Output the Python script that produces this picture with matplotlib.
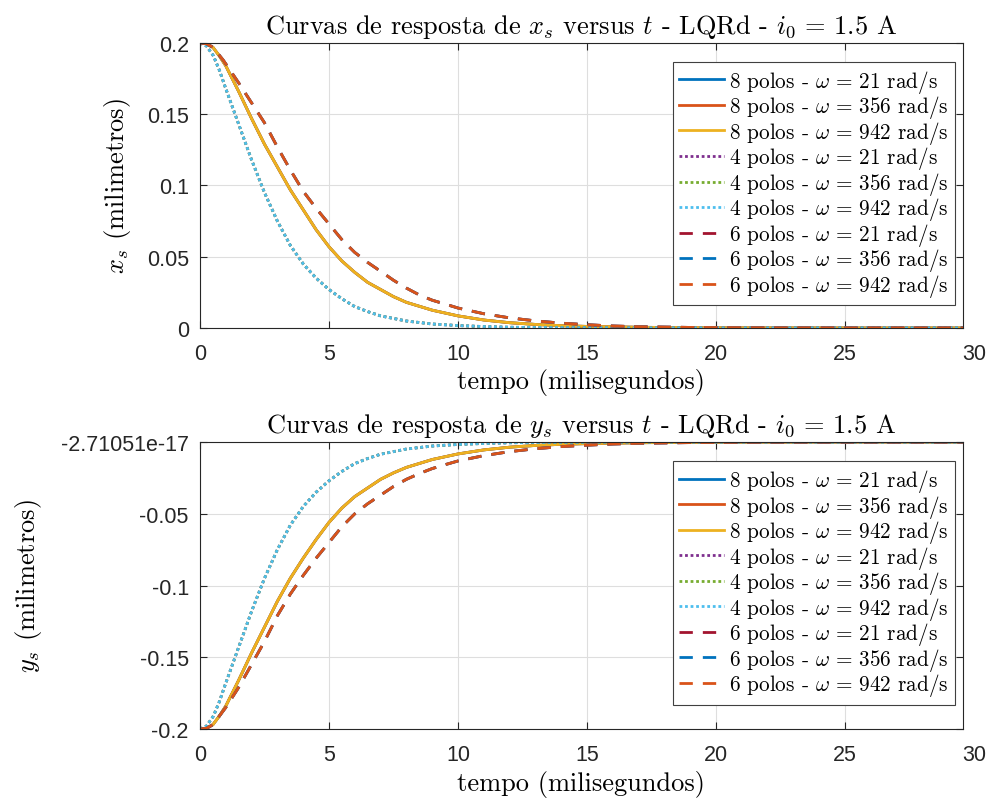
import numpy as np
import matplotlib
matplotlib.use("Agg")
import matplotlib.pyplot as plt

plt.rcParams['mathtext.fontset'] = 'cm'
plt.rcParams['font.family'] = ['cmr10', 'DejaVu Sans']
plt.rcParams['axes.unicode_minus'] = False

# tempo final (ms)
t_end = 29.57

# ---- resposta x_s (mm) ----
t_8x = [0, 0.25, 0.5, 0.75, 1.0, 1.5, 2.0, 2.5, 3.0, 3.5, 4.0, 4.5, 5.0, 5.5, 6.0, 6.5, 7.0,
        7.5, 8.0, 9.0, 10, 11, 12, 13, 14, 15, 17, 20, 25, t_end]
x_8 = [0.2, 0.1995, 0.197, 0.191, 0.184, 0.166, 0.147, 0.129, 0.113, 0.097, 0.083, 0.069,
       0.057, 0.047, 0.039, 0.032, 0.027, 0.022, 0.018, 0.0125, 0.0085, 0.0056, 0.0037,
       0.0025, 0.0016, 0.0011, 0.0005, 0.0001, 0.0, 0.0]

t_4x = [0, 0.25, 0.52, 0.75, 1.0, 1.5, 2.0, 2.5, 3.0, 3.5, 4.0, 4.5, 5.0, 5.5, 6.0, 6.5, 7.0,
        8.0, 9.0, 10, 11, 12, 14, 17, 20, 25, t_end]
x_4 = [0.2, 0.198, 0.191, 0.181, 0.168, 0.143, 0.118, 0.095, 0.075, 0.058, 0.045, 0.035,
       0.027, 0.0205, 0.015, 0.0115, 0.0085, 0.0049, 0.0028, 0.0017, 0.001, 0.0005,
       0.0002, 0.0, 0.0, 0.0, 0.0]

t_6x = [0, 0.25, 0.5, 0.9, 1.5, 2.0, 2.5, 3.0, 3.5, 4.0, 4.5, 5.0, 5.5, 6.0, 6.5, 7.0, 7.5,
        8.0, 8.5, 9.0, 9.5, 10, 11, 12, 13, 14, 15, 16, 17, 19, 22, 25, t_end]
x_6 = [0.2, 0.1995, 0.197, 0.188, 0.172, 0.158, 0.144, 0.127, 0.111, 0.096, 0.084, 0.073,
       0.062, 0.053, 0.046, 0.0398, 0.0335, 0.028, 0.0232, 0.0195, 0.0168, 0.014, 0.010,
       0.0071, 0.005, 0.0034, 0.0023, 0.0014, 0.0009, 0.0004, 0.0001, 0.0, 0.0]

# ---- resposta y_s (mm) ----
t_8y = [0, 0.25, 0.5, 0.75, 1.0, 1.5, 2.0, 2.5, 3.0, 3.5, 4.0, 4.5, 5.0, 5.5, 6.0, 6.5, 7.0,
        7.5, 8.0, 9.0, 10, 11, 12, 13, 14, 15, 17, 20, 25, t_end]
y_8 = [-0.2, -0.1995, -0.197, -0.191, -0.184, -0.166, -0.147, -0.129, -0.111, -0.095,
       -0.081, -0.068, -0.056, -0.046, -0.038, -0.032, -0.026, -0.0215, -0.0177, -0.0122,
       -0.0083, -0.0055, -0.0036, -0.0024, -0.0016, -0.0011, -0.0005, -0.0001, 0.0, 0.0]

t_4y = t_4x
y_4 = [-0.2, -0.198, -0.191, -0.181, -0.168, -0.143, -0.118, -0.095, -0.075, -0.058,
       -0.045, -0.035, -0.027, -0.0205, -0.015, -0.0115, -0.0085, -0.0049, -0.0028,
       -0.0017, -0.001, -0.0005, -0.0002, 0.0, 0.0, 0.0, 0.0]

t_6y = [0, 0.25, 0.5, 1.0, 1.5, 2.0, 2.5, 3.0, 3.5, 4.0, 4.5, 5.0, 5.5, 6.0, 6.5, 7.0, 7.5,
        8.0, 8.5, 9.0, 9.5, 10, 11, 12, 13, 14, 15, 16, 17, 19, 22, 25, t_end]
y_6 = [-0.2, -0.1995, -0.197, -0.185, -0.171, -0.155, -0.139, -0.121, -0.106, -0.093,
       -0.081, -0.070, -0.059, -0.050, -0.043, -0.037, -0.031, -0.026, -0.022, -0.0185,
       -0.0158, -0.0132, -0.0095, -0.0067, -0.0047, -0.0032, -0.0022, -0.0014, -0.0009,
       -0.0004, -0.0001, 0.0, 0.0]

omegas = [21, 356, 942]
colors_8 = ['#0072BD', '#D95319', '#EDB120']
colors_4 = ['#7E2F8E', '#77AC30', '#4DBEEE']
colors_6 = ['#A2142F', '#0072BD', '#D95319']

xticks = [0, 5, 10, 15, 20, 25]
yticks_x = [0, 0.05, 0.1, 0.15, 0.2]
yticklabels_x = ['0', '0.05', '0.1', '0.15', '0.2']
yticks_y = [-0.2, -0.15, -0.1, -0.05, -2.71051e-17]
yticklabels_y = ['-0.2', '-0.15', '-0.1', '-0.05', '-2.71051e-17']

DASH = (0, (4.8, 3.6))
DOT = (0, (1, 1))
tickfont = {'family': 'Liberation Sans', 'size': 15.5}
dark = '#262626'
LBL = 19


def desenha(ax, t8, v8, t4, v4, t6, v6, var, yticks, ylabels, ylim, ylab_x):
    for w, c in zip(omegas, colors_8):
        ax.plot(t8, v8, color=c, lw=2, label=r'8 polos - $\omega\,=\,%d$ rad/s' % w)
    for w, c in zip(omegas, colors_4):
        ax.plot(t4, v4, color=c, lw=2, ls=DOT, label=r'4 polos - $\omega\,=\,%d$ rad/s' % w)
    for w, c in zip(omegas, colors_6):
        ax.plot(t6, v6, color=c, lw=2, ls=DASH, label=r'6 polos - $\omega\,=\,%d$ rad/s' % w)

    ax.set_xlim(0, t_end)
    ax.set_ylim(*ylim)
    ax.set_xticks(xticks)
    ax.set_xticklabels([str(v) for v in xticks], fontdict=tickfont, color=dark)
    # o rotulo 30 fica fora do limite do eixo, como no original
    ax.annotate('30', xy=(30, 0), xycoords=('data', 'axes fraction'), xytext=(0, -10.5),
                textcoords='offset points', ha='center', va='top',
                fontfamily='Liberation Sans', fontsize=15.5, color=dark, annotation_clip=False)
    ax.set_yticks(yticks)
    ax.set_yticklabels(ylabels, fontdict=tickfont, color=dark)
    ax.tick_params(direction='in', length=5, width=0.8, color=dark, top=True, right=True)
    ax.tick_params(axis='x', pad=10.5)
    ax.tick_params(axis='y', pad=8)
    ax.grid(True, color='#dedede', lw=0.8)
    for s in ax.spines.values():
        s.set_color(dark)
        s.set_linewidth(0.8)

    ax.set_title(r'Curvas de resposta de $%s_s$ versus $t$ - LQRd - $i_0\,=\,1.5$ A' % var,
                 fontsize=LBL, pad=7)
    ax.set_xlabel('tempo (milisegundos)', fontsize=LBL)
    ax.xaxis.set_label_coords(0.5, -0.142)
    ax.set_ylabel(r'$%s_s$ (milimetros)' % var, fontsize=LBL)
    ax.yaxis.set_label_coords(ylab_x, 0.5)

    leg = ax.legend(loc='upper right', bbox_to_anchor=(0.9895, 0.935), borderaxespad=0,
                    fontsize=15.3, handlelength=2.1, handletextpad=0.25, labelspacing=-0.07,
                    borderpad=0.3, fancybox=False, framealpha=1)
    leg.get_frame().set_edgecolor('#404040')
    leg.get_frame().set_linewidth(0.8)


fig = plt.figure(figsize=(9.88, 8.03), dpi=100)
ax1 = fig.add_axes([0.2024, 0.5903, 0.7723, 0.3549])
ax2 = fig.add_axes([0.2024, 0.0909, 0.7723, 0.3574])

desenha(ax1, t_8x, x_8, t_4x, x_4, t_6x, x_6, 'x', yticks_x, yticklabels_x, (0, 0.2), -0.088)
desenha(ax2, t_8y, y_8, t_4y, y_4, t_6y, y_6, 'y', yticks_y, yticklabels_y,
        (-0.2, -2.71051e-17), -0.205)

fig.savefig('out.png', dpi=100)
